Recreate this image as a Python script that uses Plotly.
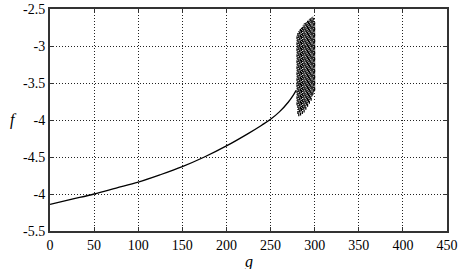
import plotly.graph_objects as go

# smooth branch
curve_g = [0, 25, 50, 75, 100, 125, 150, 175, 200, 225, 240, 250, 260, 270, 276, 279]
curve_f = [-5.14, -5.07, -5.0, -4.92, -4.84, -4.74, -4.63, -4.50, -4.35, -4.18, -4.07, -3.99, -3.89, -3.76, -3.66, -3.60]

# chaotic region: vertical extent of the scatter at each g
chaos_g = [280, 281, 282, 283, 284, 285, 286, 287, 288, 289, 290, 291, 292, 293, 294, 295, 296, 297, 298, 299, 300]
chaos_lo = [-3.80, -3.92, -3.95, -3.90, -3.94, -3.88, -3.92, -3.86, -3.90, -3.84, -3.86, -3.80, -3.82, -3.76, -3.78, -3.72, -3.74, -3.68, -3.66, -3.62, -3.60]
chaos_hi = [-2.85, -2.82, -2.80, -2.78, -2.77, -2.75, -2.74, -2.72, -2.70, -2.69, -2.68, -2.67, -2.66, -2.65, -2.64, -2.63, -2.62, -2.61, -2.60, -2.62, -2.68]

x_ticks = [0, 50, 100, 150, 200, 250, 300, 350, 400, 450]
x_labels = ["0", "50", "100", "150", "200", "250", "300", "350", "400", "450"]
y_ticks = [-2.5, -3, -3.5, -4, -4.5, -5, -5.5]
y_labels = ["-2.5", "-3", "-3.5", "-4", "-4.5", "-4", "-5.5"]

FAM = "Liberation Serif, Times New Roman, serif"

fig = go.Figure()
fig.add_trace(go.Scatter(x=curve_g, y=curve_f, mode="lines",
                         line=dict(color="black", width=1.3, shape="spline"),
                         showlegend=False))

seg_x, seg_y = [], []
for g, lo, hi in zip(chaos_g, chaos_lo, chaos_hi):
    seg_x += [g, g, None]
    seg_y += [lo, hi, None]
fig.add_trace(go.Scatter(x=seg_x, y=seg_y, mode="lines",
                         line=dict(color="black", width=1.2, dash="3px,1px,1px,1px"),
                         showlegend=False))

axis_common = dict(showgrid=True, gridcolor="#222", griddash="1px,2px", gridwidth=1,
                   showline=True, linecolor="#333", linewidth=2, mirror="ticks",
                   ticks="inside", ticklen=4, tickcolor="#333", zeroline=False,
                   automargin=False, ticklabeloverflow="allow",
                   tickfont=dict(family=FAM, size=14, color="black"))

fig.update_layout(
    width=458, height=269,
    margin=dict(l=50, r=11, t=9, b=38),
    paper_bgcolor="white", plot_bgcolor="white",
    font=dict(family=FAM, size=14, color="black"),
    xaxis=dict(range=[0, 450], tickvals=x_ticks, ticktext=x_labels, **axis_common),
    yaxis=dict(range=[-5.5, -2.5], tickvals=y_ticks, ticktext=y_labels, **axis_common),
    annotations=[
        dict(text="<i>g</i>", x=0.5, y=-0.19, xref="paper", yref="paper",
             showarrow=False, font=dict(family=FAM, size=16)),
        dict(text="<i>f</i>", x=-0.105, y=0.5, xref="paper", yref="paper",
             showarrow=False, font=dict(family=FAM, size=16)),
    ],
)
fig.write_html("out.html", config={"displayModeBar": False},
               post_script="document.body.style.margin='0';document.body.style.padding='0';")
